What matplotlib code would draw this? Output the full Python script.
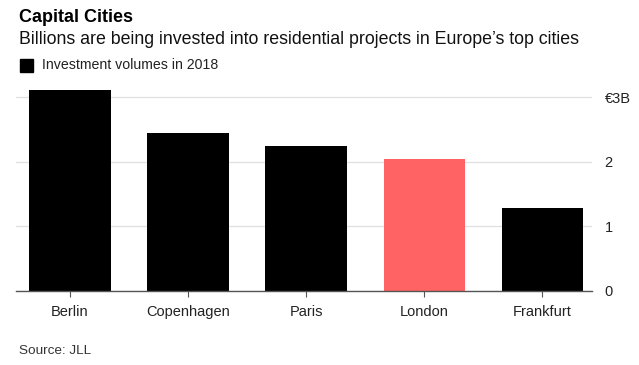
import numpy as np
import matplotlib
matplotlib.use('Agg')
import matplotlib.pyplot as plt
from matplotlib.patches import Rectangle

cities = ['Berlin', 'Copenhagen', 'Paris', 'London', 'Frankfurt']
volumes = [3.11, 2.44, 2.24, 2.04, 1.28]
colors = ['#000000', '#000000', '#000000', '#FF6363', '#000000']
ytick_vals = [0, 1, 2, 3]
ytick_labels = ['0', '1', '2', '€3B']

plt.rcParams['font.family'] = ['Liberation Sans', 'DejaVu Sans']

W, H = 639, 365
fig = plt.figure(figsize=(W / 100, H / 100), dpi=100)
ax = fig.add_axes([16 / W, 1 - 291 / H, (592 - 16) / W, (291 - 88) / H])

x = np.arange(len(cities))
ax.bar(x, volumes, width=0.69, color=colors, zorder=3)
ax.set_xlim(-0.456, 4.42)
ax.set_ylim(0, 3.14)

ax.set_xticks(x)
ax.set_xticklabels(cities, fontsize=10.5, color='#222222')
ax.tick_params(axis='x', length=4, color='#555555', pad=6)

ax.yaxis.tick_right()
ax.set_yticks(ytick_vals)
ax.set_yticklabels(ytick_labels, fontsize=10.5, color='#222222')
ax.tick_params(axis='y', length=0, pad=9)
ax.yaxis.grid(True, color='#e0e0e0', linewidth=0.9, zorder=0)
ax.set_axisbelow(True)

for s in ['top', 'right', 'left']:
    ax.spines[s].set_visible(False)
ax.spines['bottom'].set_color('#555555')
ax.spines['bottom'].set_linewidth(1.0)
ax.spines['bottom'].set_zorder(4)

fig.text(19 / W, 1 - 17 / H, 'Capital Cities', fontsize=13, fontweight='bold',
         color='#000000', va='center', ha='left')
fig.text(19 / W, 1 - 39 / H,
         'Billions are being invested into residential projects in Europe\u2019s top cities',
         fontsize=12.8, color='#111111', va='center', ha='left')
fig.patches.append(Rectangle((20 / W, 1 - 72 / H), 13 / W, 13 / H,
                             transform=fig.transFigure, color='#000000'))
fig.text(42 / W, 1 - 65 / H, 'Investment volumes in 2018', fontsize=10.2,
         color='#222222', va='center', ha='left')
fig.text(19 / W, 1 - 351 / H, 'Source: JLL', fontsize=9.7, color='#333333',
         va='center', ha='left')

fig.savefig('out.png', dpi=100, facecolor='white')
